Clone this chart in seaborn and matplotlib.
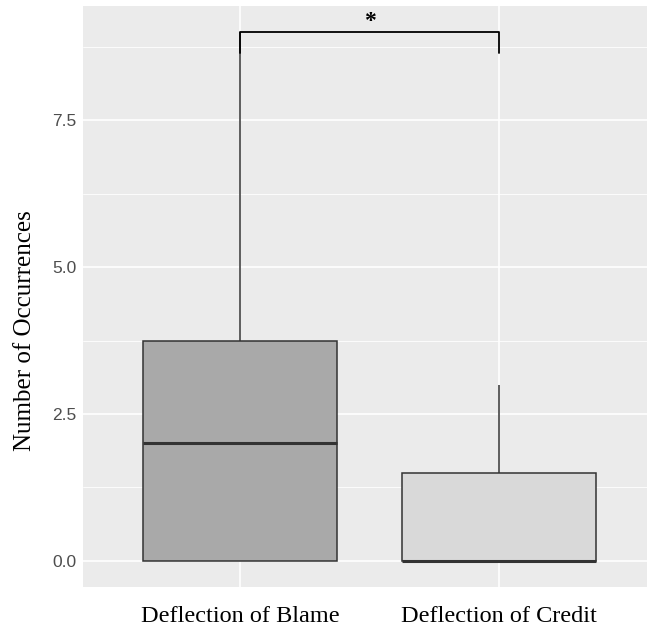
import matplotlib
matplotlib.use("Agg")
import matplotlib.pyplot as plt
import seaborn as sns
import pandas as pd
import numpy as np

# Data (per-participant counts reproducing the box statistics)
categories = ["Deflection of Blame", "Deflection of Credit"]
blame_counts = [0, 0, 0, 0, 1, 2, 2, 3, 3, 6, 7, 9]
credit_counts = [0, 0, 0, 0, 0, 0, 0, 1, 1, 3, 3, 3]
fill_colors = ["#A9A9A9", "#D9D9D9"]
y_ticks = [0.0, 2.5, 5.0, 7.5]
y_minor = [1.25, 3.75, 6.25, 8.75]
y_label = "Number of Occurrences"
sig_label = "*"

df = pd.DataFrame({
    "type": [categories[0]] * len(blame_counts) + [categories[1]] * len(credit_counts),
    "count": blame_counts + credit_counts,
})

sns.set_style("white")

fig = plt.figure(figsize=(6.47, 6.30), dpi=100)
W, H = 647, 630
ax = fig.add_axes([83 / W, (H - 587) / H, (W - 83) / W, 581 / H])
ax.set_facecolor("#EBEBEB")

sns.boxplot(
    data=df, x="type", y="count", hue="type", order=categories, hue_order=categories,
    palette=fill_colors, width=0.75, linecolor="#333333", linewidth=1.1,
    showcaps=False, fliersize=0, legend=False, ax=ax,
    medianprops=dict(color="#333333", linewidth=2.2),
    whiskerprops=dict(color="#333333", linewidth=1.1),
    boxprops=dict(edgecolor="#333333", linewidth=1.1),
    zorder=3,
)

ymax = max(max(blame_counts), max(credit_counts))
ymin = min(min(blame_counts), min(credit_counts))
pad = 0.05 * (ymax - ymin)
ax.set_ylim(ymin - pad, ymax + pad)
ax.set_xlim(-0.606, 1.571)

# grid
ax.set_yticks(y_ticks)
ax.set_yticklabels([f"{v:.1f}" for v in y_ticks])
ax.set_yticks(y_minor, minor=True)
ax.grid(False)
for v in y_ticks:
    ax.axhline(v, color="white", linewidth=1.2, zorder=0)
for v in y_minor:
    ax.axhline(v, color="white", linewidth=0.6, zorder=0)
for i in range(len(categories)):
    ax.axvline(i, color="white", linewidth=1.2, zorder=0)

for s in ax.spines.values():
    s.set_visible(False)

ax.tick_params(axis="y", which="major", length=3.5, width=0.8, color="#333333",
               labelsize=12.5, labelcolor="#4D4D4D", pad=1.5)
ax.tick_params(axis="y", which="minor", length=0)
ax.tick_params(axis="x", length=3.5, width=0.8, color="#333333", labelsize=17.5,
               labelcolor="black", pad=10)
for lab in ax.get_yticklabels():
    lab.set_fontfamily("Liberation Sans")
for lab in ax.get_xticklabels():
    lab.set_fontfamily("Liberation Serif")

ax.set_xlabel("")
ax.set_ylabel(y_label, fontsize=18, fontfamily="Liberation Serif", color="black")
ax.yaxis.set_label_coords(-0.083, 0.442)

# significance bracket between the two categories
tip = 0.35
ax.plot([0, 0, 1, 1], [ymax - tip, ymax, ymax, ymax - tip], color="black",
        linewidth=1.3, zorder=5, solid_joinstyle="round")
ax.text(0.5, ymax + 0.1, sig_label, ha="center", va="baseline", fontsize=17,
        fontfamily="Liberation Serif", fontweight="bold", color="black", zorder=6)

fig.savefig("out.png", dpi=100)
